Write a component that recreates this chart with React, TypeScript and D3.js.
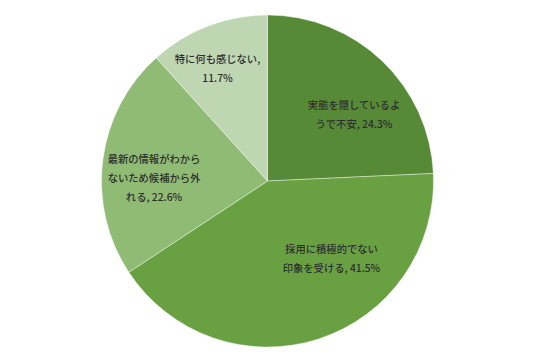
import React from "react";
import * as d3 from "d3";

const categories = [
  "実態を隠しているようで不安",
  "採用に積極的でない印象を受ける",
  "最新の情報がわからないため候補から外れる",
  "特に何も感じない",
];
const values = [24.3, 41.5, 22.6, 11.7];
const labelLines = [
  ["実態を隠しているよ", "うで不安, 24.3%"],
  ["採用に積極的でない", "印象を受ける, 41.5%"],
  ["最新の情報がわから", "ないため候補から外", "れる, 22.6%"],
  ["特に何も感じない,", "11.7%"],
];
const colors = ["#578a37", "#69a142", "#8fbb74", "#bfd6b2"];

const W = 536;
const H = 363;
const cx = 267.5;
const cy = 181;
const R = 166;
// label centre offsets relative to the pie centre
const labelOffsets: [number, number][] = [
  [86.5, -67],
  [64, 77],
  [-113.5, -4],
  [-50, -113],
];
const lineGap = 19;

export default function App() {
  const pie = d3
    .pie<number>()
    .sort(null)
    .value((d) => d)
    .startAngle(0)
    .endAngle(2 * Math.PI);
  const arcs = pie(values);
  const arc = d3.arc<d3.PieArcDatum<number>>().innerRadius(0).outerRadius(R);

  return (
    <svg
      width={W}
      height={H}
      style={{ position: "absolute", left: 0, top: 0 }}
      fontFamily="'Noto Sans CJK JP', 'Noto Sans', sans-serif"
    >
      <rect width={W} height={H} fill="#ffffff" />
      <g transform={`translate(${cx},${cy})`}>
        {arcs.map((a, i) => (
          <path
            key={categories[i]}
            d={arc(a) || ""}
            fill={colors[i]}
            stroke="#ffffff"
            strokeWidth={0.4}
          />
        ))}
        {arcs.map((a, i) => {
          const [dx, dy] = labelOffsets[i];
          const lines = labelLines[i];
          const y0 = dy - ((lines.length - 1) * lineGap) / 2;
          return (
            <text
              key={"l" + i}
              textAnchor="middle"
              fontSize={10.3}
              fontWeight={500}
              fill="#2e2e2e"
            >
              {lines.map((t, j) => (
                <tspan
                  key={j}
                  x={dx}
                  y={y0 + j * lineGap}
                  dominantBaseline="central"
                >
                  {t}
                </tspan>
              ))}
            </text>
          );
        })}
      </g>
    </svg>
  );
}
